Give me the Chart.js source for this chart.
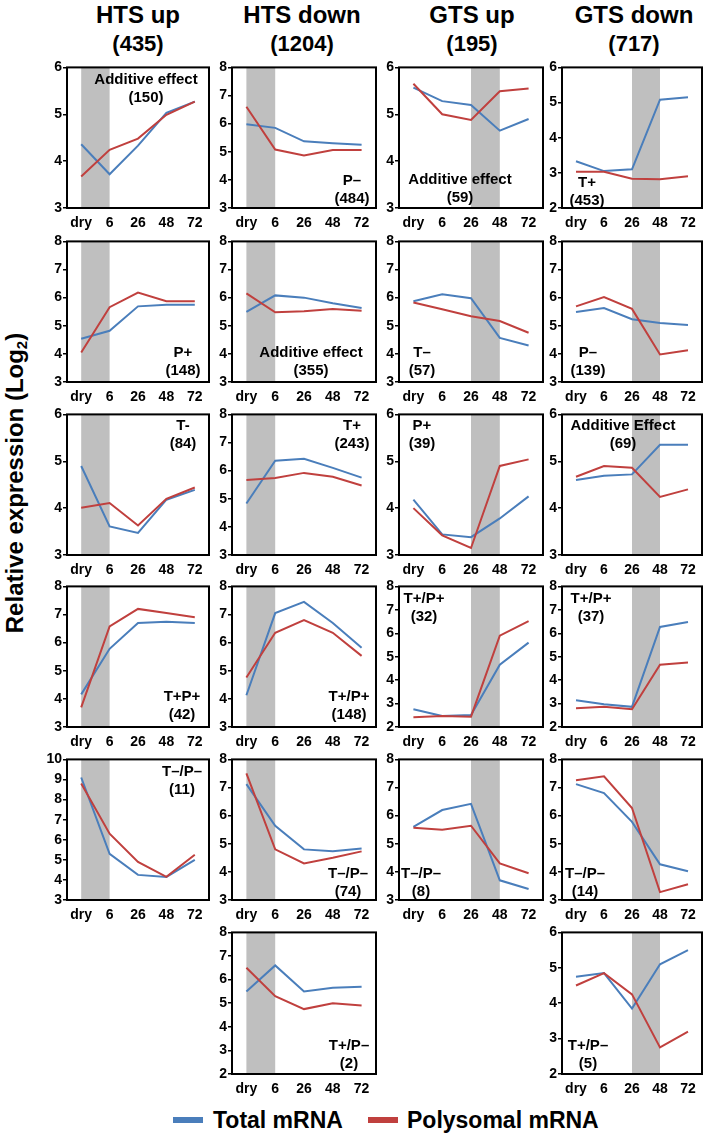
<!DOCTYPE html>
<html>
<head>
<meta charset="utf-8">
<script src="https://cdn.jsdelivr.net/npm/chart.js@4/dist/chart.umd.min.js"></script>
<style>
    body { margin: 0; background: #fff; }
    #page { position: relative; width: 709px; height: 1138px; overflow: hidden;
            font-family: 'Liberation Sans', Arial, sans-serif; font-weight: bold; color: #000; }
    .hdr { position: absolute; white-space: nowrap; transform: translate(-50%, -50%); line-height: 1; }
    .note { position: absolute; white-space: nowrap; text-align: center; transform: translateX(-50%);
            font-size: 15px; line-height: 18px; }
    .panel { position: absolute; }
    .swatch { position: absolute; height: 6px; width: 30px; }
    .legtxt { position: absolute; font-size: 23px; line-height: 1; transform: translateY(-50%); white-space: nowrap; }
</style>
</head>
<body>
<div id="page"></div>
<script>
/* ---- data ---- */
var categories = ['dry', '6', '26', '48', '72'];

// HTS up (435)
var htsUpAdditiveTotal = [4.36, 3.72, 4.33, 5.03, 5.27];
var htsUpAdditivePoly  = [3.67, 4.24, 4.48, 4.99, 5.27];
var htsUpPplusTotal    = [4.54, 4.82, 5.69, 5.75, 5.75];
var htsUpPplusPoly     = [4.05, 5.66, 6.18, 5.87, 5.87];
var htsUpTminusTotal   = [4.90, 3.61, 3.47, 4.18, 4.39];
var htsUpTminusPoly    = [4.01, 4.11, 3.63, 4.20, 4.44];
var htsUpTPplusTotal   = [4.16, 5.78, 6.70, 6.74, 6.70];
var htsUpTPplusPoly    = [3.70, 6.58, 7.20, 7.05, 6.90];
var htsUpTPminusTotal  = [9.10, 5.30, 4.25, 4.15, 5.00];
var htsUpTPminusPoly   = [8.80, 6.30, 4.90, 4.15, 5.25];

// HTS down (1204)
var htsDownPminusTotal   = [5.98, 5.85, 5.37, 5.30, 5.25];
var htsDownPminusPoly    = [6.60, 5.08, 4.87, 5.06, 5.06];
var htsDownAdditiveTotal = [5.49, 6.08, 6.00, 5.80, 5.63];
var htsDownAdditivePoly  = [6.15, 5.48, 5.52, 5.60, 5.53];
var htsDownTplusTotal    = [4.83, 6.35, 6.42, 6.10, 5.75];
var htsDownTplusPoly     = [5.67, 5.74, 5.92, 5.78, 5.47];
var htsDownTPplusTotal   = [4.13, 7.05, 7.45, 6.70, 5.82];
var htsDownTPplusPoly    = [4.76, 6.35, 6.80, 6.35, 5.53];
var htsDownTPminusTotal  = [7.12, 5.64, 4.80, 4.73, 4.83];
var htsDownTPminusPoly   = [7.50, 4.80, 4.30, 4.50, 4.73];
var htsDownTplusPminusTotal = [5.50, 6.60, 5.50, 5.65, 5.70];
var htsDownTplusPminusPoly  = [6.50, 5.30, 4.75, 5.00, 4.90];

// GTS up (195)
var gtsUpAdditiveTotal = [5.57, 5.28, 5.20, 4.65, 4.90];
var gtsUpAdditivePoly  = [5.65, 5.00, 4.88, 5.49, 5.55];
var gtsUpTminusTotal   = [5.87, 6.12, 5.98, 4.57, 4.30];
var gtsUpTminusPoly    = [5.83, 5.59, 5.34, 5.17, 4.75];
var gtsUpPplusTotal    = [4.18, 3.44, 3.38, 3.78, 4.25];
var gtsUpPplusPoly     = [4.00, 3.42, 3.15, 4.90, 5.04];
var gtsUpTPplusTotal   = [2.76, 2.47, 2.51, 4.66, 5.60];
var gtsUpTPplusPoly    = [2.42, 2.47, 2.44, 5.90, 6.52];
var gtsUpTPminusTotal  = [5.60, 6.20, 6.42, 3.70, 3.39];
var gtsUpTPminusPoly   = [5.57, 5.50, 5.64, 4.30, 3.95];

// GTS down (717)
var gtsDownTplusTotal    = [3.33, 3.05, 3.10, 5.08, 5.15];
var gtsDownTplusPoly     = [3.03, 3.03, 2.83, 2.82, 2.90];
var gtsDownPminusTotal   = [5.49, 5.63, 5.23, 5.10, 5.03];
var gtsDownPminusPoly    = [5.69, 6.02, 5.60, 3.98, 4.13];
var gtsDownAdditiveTotal = [4.60, 4.69, 4.72, 5.35, 5.35];
var gtsDownAdditivePoly  = [4.67, 4.90, 4.86, 4.24, 4.40];
var gtsDownTPplusTotal   = [3.14, 2.97, 2.86, 6.27, 6.48];
var gtsDownTPplusPoly    = [2.80, 2.86, 2.76, 4.66, 4.75];
var gtsDownTPminusTotal  = [7.12, 6.80, 5.78, 4.27, 4.02];
var gtsDownTPminusPoly   = [7.26, 7.40, 6.27, 3.28, 3.56];
var gtsDownTplusPminusTotal = [4.75, 4.85, 3.85, 5.10, 5.50];
var gtsDownTplusPminusPoly  = [4.50, 4.85, 4.25, 2.75, 3.20];

var columnTitles = ['HTS up', 'HTS down', 'GTS up', 'GTS down'];
var columnCounts = ['(435)', '(1204)', '(195)', '(717)'];
var legendLabels = ['Total mRNA', 'Polysomal mRNA'];

/* ---- layout ---- */
var BLUE = '#4a7ebb', RED = '#c0403e', BAND = '#bfbfbf';
var FONT = "'Liberation Sans', Arial, sans-serif";
var colLeft  = [67, 232, 399, 562];
var colWidth = [142, 144, 144, 140];
var colTitleX = [138, 302, 472, 634];
var rowTop = [66, 240, 413, 585, 758, 931];
var BOX_H = 142;
var HTS_BAND = ['dry', '6'], GTS_BAND = ['26', '48'];

// col, row, y range, annotation (lines, centre x, centre y of first line)
var panels = [
    { c: 0, r: 0, y: [3, 6],  t: htsUpAdditiveTotal, p: htsUpAdditivePoly, note: ['Additive effect', '(150)'], nx: 146, ny: 79 },
    { c: 0, r: 1, y: [3, 8],  t: htsUpPplusTotal, p: htsUpPplusPoly, note: ['P+', '(148)'], nx: 183, ny: 352 },
    { c: 0, r: 2, y: [3, 6],  t: htsUpTminusTotal, p: htsUpTminusPoly, note: ['T-', '(84)'], nx: 183, ny: 425 },
    { c: 0, r: 3, y: [3, 8],  t: htsUpTPplusTotal, p: htsUpTPplusPoly, note: ['T+P+', '(42)'], nx: 182, ny: 696 },
    { c: 0, r: 4, y: [3, 10], t: htsUpTPminusTotal, p: htsUpTPminusPoly, note: ['T–/P–', '(11)'], nx: 182, ny: 771 },

    { c: 1, r: 0, y: [3, 8],  t: htsDownPminusTotal, p: htsDownPminusPoly, note: ['P–', '(484)'], nx: 352, ny: 180 },
    { c: 1, r: 1, y: [3, 8],  t: htsDownAdditiveTotal, p: htsDownAdditivePoly, note: ['Additive effect', '(355)'], nx: 311, ny: 352 },
    { c: 1, r: 2, y: [3, 8],  t: htsDownTplusTotal, p: htsDownTplusPoly, note: ['T+', '(243)'], nx: 352, ny: 425 },
    { c: 1, r: 3, y: [3, 8],  t: htsDownTPplusTotal, p: htsDownTPplusPoly, note: ['T+/P+', '(148)'], nx: 349, ny: 696 },
    { c: 1, r: 4, y: [3, 8],  t: htsDownTPminusTotal, p: htsDownTPminusPoly, note: ['T–/P–', '(74)'], nx: 348, ny: 873 },
    { c: 1, r: 5, y: [2, 8],  t: htsDownTplusPminusTotal, p: htsDownTplusPminusPoly, note: ['T+/P–', '(2)'], nx: 349, ny: 1045 },

    { c: 2, r: 0, y: [3, 6],  t: gtsUpAdditiveTotal, p: gtsUpAdditivePoly, note: ['Additive effect', '(59)'], nx: 460, ny: 179 },
    { c: 2, r: 1, y: [3, 8],  t: gtsUpTminusTotal, p: gtsUpTminusPoly, note: ['T–', '(57)'], nx: 422, ny: 352 },
    { c: 2, r: 2, y: [3, 6],  t: gtsUpPplusTotal, p: gtsUpPplusPoly, note: ['P+', '(39)'], nx: 422, ny: 425 },
    { c: 2, r: 3, y: [2, 8],  t: gtsUpTPplusTotal, p: gtsUpTPplusPoly, note: ['T+/P+', '(32)'], nx: 424, ny: 598 },
    { c: 2, r: 4, y: [3, 8],  t: gtsUpTPminusTotal, p: gtsUpTPminusPoly, note: ['T–/P–', '(8)'], nx: 421, ny: 873 },

    { c: 3, r: 0, y: [2, 6],  t: gtsDownTplusTotal, p: gtsDownTplusPoly, note: ['T+', '(453)'], nx: 587, ny: 182 },
    { c: 3, r: 1, y: [3, 8],  t: gtsDownPminusTotal, p: gtsDownPminusPoly, note: ['P–', '(139)'], nx: 588, ny: 352 },
    { c: 3, r: 2, y: [3, 6],  t: gtsDownAdditiveTotal, p: gtsDownAdditivePoly, note: ['Additive Effect', '(69)'], nx: 623, ny: 425 },
    { c: 3, r: 3, y: [2, 8],  t: gtsDownTPplusTotal, p: gtsDownTPplusPoly, note: ['T+/P+', '(37)'], nx: 591, ny: 598 },
    { c: 3, r: 4, y: [3, 8],  t: gtsDownTPminusTotal, p: gtsDownTPminusPoly, note: ['T–/P–', '(14)'], nx: 585, ny: 873 },
    { c: 3, r: 5, y: [2, 6],  t: gtsDownTplusPminusTotal, p: gtsDownTplusPminusPoly, note: ['T+/P–', '(5)'], nx: 588, ny: 1045 }
];

// grey stress band behind the lines + black frame on top
var panelDecor = {
    id: 'panelDecor',
    beforeDatasetsDraw: function(chart, args, opts) {
        var a = chart.chartArea, xs = chart.scales.x, ctx = chart.ctx;
        var x0 = xs.getPixelForValue(categories.indexOf(opts.band[0]));
        var x1 = xs.getPixelForValue(categories.indexOf(opts.band[1]));
        ctx.save();
        ctx.fillStyle = BAND;
        ctx.fillRect(x0, a.top, x1 - x0, a.bottom - a.top);
        ctx.restore();
    },
    afterDatasetsDraw: function(chart) {
        var a = chart.chartArea, ctx = chart.ctx;
        ctx.save();
        ctx.strokeStyle = '#000';
        ctx.lineWidth = 2;
        ctx.strokeRect(a.left, a.top, a.right - a.left, a.bottom - a.top);
        ctx.restore();
    }
};

var page = document.getElementById('page');

function addDiv(cls, html, css) {
    var d = document.createElement('div');
    d.className = cls;
    d.innerHTML = html;
    Object.assign(d.style, css);
    page.appendChild(d);
    return d;
}

// column headers
columnTitles.forEach(function(t, i) {
    addDiv('hdr', t, { left: colTitleX[i] + 'px', top: '15px', fontSize: '24px' });
    addDiv('hdr', columnCounts[i], { left: colTitleX[i] + 'px', top: '44px', fontSize: '22px' });
});

// y axis title
addDiv('hdr', 'Relative expression (Log<sub style="font-size:15px;vertical-align:-4px">2</sub>)',
    { left: '16px', top: '483px', fontSize: '24px', transform: 'translate(-50%,-50%) rotate(-90deg)' });

// legend
addDiv('swatch', '', { left: '173px', top: '1117px', background: BLUE });
addDiv('legtxt', legendLabels[0], { left: '213px', top: '1120px' });
addDiv('swatch', '', { left: '368px', top: '1117px', background: RED });
addDiv('legtxt', legendLabels[1], { left: '407px', top: '1120px' });

var tickFont = { family: FONT, size: 14, weight: 'bold' };

panels.forEach(function(p) {
    var w = colWidth[p.c], h = p.r === 5 ? BOX_H + 1 : BOX_H;
    var holder = document.createElement('div');
    holder.className = 'panel';
    holder.style.left = (colLeft[p.c] - 30) + 'px';
    holder.style.top = (rowTop[p.r] - 8) + 'px';
    var canvas = document.createElement('canvas');
    canvas.width = 30 + w + 3;
    canvas.height = 8 + h + 26;
    canvas.style.width = canvas.width + 'px';
    canvas.style.height = canvas.height + 'px';
    holder.appendChild(canvas);
    page.appendChild(holder);

    new Chart(canvas, {
        type: 'line',
        data: {
            labels: categories,
            datasets: [
                { label: legendLabels[0], data: p.t, borderColor: BLUE, borderWidth: 2, pointRadius: 0, tension: 0, fill: false, order: 1 },
                { label: legendLabels[1], data: p.p, borderColor: RED, borderWidth: 2, pointRadius: 0, tension: 0, fill: false, order: 0 }
            ]
        },
        options: {
            responsive: false,
            animation: false,
            devicePixelRatio: 1,
            layout: { padding: { top: 8, right: 3, left: 0, bottom: 0 } },
            plugins: {
                legend: { display: false },
                tooltip: { enabled: false },
                panelDecor: { band: p.c < 2 ? HTS_BAND : GTS_BAND }
            },
            scales: {
                x: {
                    type: 'category',
                    offset: true,
                    grid: { display: false, drawTicks: false },
                    border: { display: false },
                    ticks: { color: '#000', font: tickFont, padding: 7, maxRotation: 0, autoSkip: false },
                    afterFit: function(s) { s.height = 26; }
                },
                y: {
                    min: p.y[0],
                    max: p.y[1],
                    grid: { drawOnChartArea: false, drawTicks: true, tickLength: 4, color: '#000', lineWidth: 1.5 },
                    border: { display: false },
                    ticks: { stepSize: 1, color: '#000', font: tickFont, padding: 1 },
                    afterFit: function(s) { s.width = 30; }
                }
            }
        },
        plugins: [panelDecor]
    });

    addDiv('note', p.note.join('<br>'), { left: p.nx + 'px', top: (p.ny - 9) + 'px' });
});
</script>
</body>
</html>
